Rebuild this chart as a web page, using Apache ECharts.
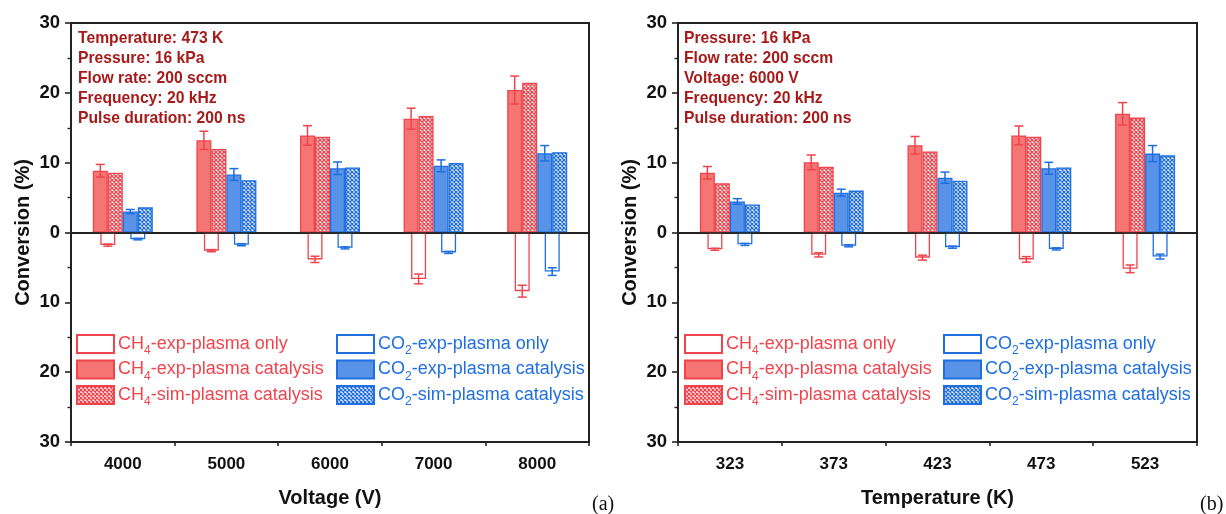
<!DOCTYPE html>
<html><head><meta charset="utf-8">
<script src="https://cdn.jsdelivr.net/npm/echarts@6/dist/echarts.min.js"></script>
<style>html,body{margin:0;padding:0;background:#fff}#c{width:1226px;height:514px}</style>
</head><body><div id="c"></div>
<script>
// ---- data ----
const voltCats = ['4000','5000','6000','7000','8000'];
const tempCats = ['323','373','423','473','523'];
const yTicks = [-30,-20,-10,0,10,20,30];

// (a) voltage
const ch4OnlyA    = [-1.8, -2.6, -3.85, -6.65, -8.4];
const ch4OnlyErrA = [0.15, 0.15, 0.45, 0.7, 0.85];
const ch4ExpA     = [8.85, 13.2, 13.9, 16.3, 20.4];
const ch4ExpErrA  = [0.9, 1.3, 1.4, 1.5, 2.0];
const ch4SimA     = [8.55, 11.95, 13.7, 16.7, 21.45];
const co2OnlyA    = [-0.95, -1.75, -2.2, -2.85, -5.6];
const co2OnlyErrA = [0.1, 0.15, 0.15, 0.15, 0.55];
const co2ExpA     = [3.0, 8.3, 9.2, 9.55, 11.35];
const co2ExpErrA  = [0.3, 0.85, 0.9, 0.85, 1.1];
const co2SimA     = [3.6, 7.5, 9.3, 9.95, 11.5];

// (b) temperature
const ch4OnlyB    = [-2.4, -3.2, -3.6, -3.85, -5.2];
const ch4OnlyErrB = [0.15, 0.3, 0.35, 0.4, 0.55];
const ch4ExpB     = [8.55, 10.05, 12.5, 13.9, 17.0];
const ch4ExpErrB  = [0.9, 1.05, 1.25, 1.35, 1.6];
const ch4SimB     = [7.05, 9.4, 11.6, 13.7, 16.45];
const co2OnlyB    = [-1.7, -1.9, -2.1, -2.35, -3.45];
const co2OnlyErrB = [0.15, 0.15, 0.15, 0.15, 0.35];
const co2ExpB     = [4.45, 5.7, 7.85, 9.2, 11.3];
const co2ExpErrB  = [0.4, 0.5, 0.8, 0.85, 1.15];
const co2SimB     = [4.0, 6.0, 7.4, 9.3, 11.05];

const names = ['CH4-exp-plasma only','CH4-exp-plasma catalysis','CH4-sim-plasma catalysis',
               'CO2-exp-plasma only','CO2-exp-plasma catalysis','CO2-sim-plasma catalysis'];
const notesA = ['Temperature: 473 K','Pressure: 16 kPa','Flow rate: 200 sccm','Frequency: 20 kHz','Pulse duration: 200 ns'];
const notesB = ['Pressure: 16 kPa','Flow rate: 200 sccm','Voltage: 6000 V','Frequency: 20 kHz','Pulse duration: 200 ns'];

// ---- styles ----
const FONT = 'Liberation Sans, Arial, sans-serif';
const RED = '#f0444c', REDF = '#f57575', BLUE = '#1f6fe0', BLUEF = '#5893e8';
const NOTE = '#a61a1a', AX = '#222';
const BW = 15;

function hatch(color){
  const c = document.createElement('canvas'); c.width = 4; c.height = 4;
  const g = c.getContext('2d');
  g.fillStyle = '#fff'; g.fillRect(0,0,4,4);
  g.strokeStyle = color; g.lineWidth = 1.3;
  g.beginPath(); g.moveTo(0,0); g.lineTo(4,4); g.moveTo(4,0); g.lineTo(0,4); g.stroke();
  return {image: c, repeat: 'repeat'};
}
const hatchR = hatch(RED), hatchB = hatch(BLUE);

function errSeries(xi, yi, vals, errs, off, color){
  return {
    type: 'custom', xAxisIndex: xi, yAxisIndex: yi, z: 5, silent: true,
    data: vals.map((v,i)=>[i, v, errs[i]]),
    renderItem: function(params, api){
      const i = api.value(0), v = api.value(1), e = api.value(2);
      const p1 = api.coord([i, v+e]), p2 = api.coord([i, v-e]);
      const x = p1[0] + off, h = 4.5;
      const st = {stroke: color, lineWidth: 1.5};
      return {type:'group', children:[
        {type:'line', shape:{x1:x, y1:p1[1], x2:x, y2:p2[1]}, style: st},
        {type:'line', shape:{x1:x-h, y1:p1[1], x2:x+h, y2:p1[1]}, style: st},
        {type:'line', shape:{x1:x-h, y1:p2[1], x2:x+h, y2:p2[1]}, style: st}
      ]};
    }
  };
}

function bar(name, xi, yi, data, color, border, gap){
  return {name, type:'bar', xAxisIndex: xi, yAxisIndex: yi, data, barWidth: BW, barGap: gap,
    itemStyle:{color, borderColor: border, borderWidth: 1.3}, emphasis:{disabled:true}};
}

function panel(p, D){
  const xa = 2*p, xb = 2*p+1;
  const s = [
    bar(names[1], xa, p, D.ch4Exp, REDF, RED, 0),
    bar(names[2], xa, p, D.ch4Sim, hatchR, RED, 0),
    bar(names[4], xa, p, D.co2Exp, BLUEF, BLUE, 0),
    bar(names[5], xa, p, D.co2Sim, hatchB, BLUE, 0),
    bar(names[0], xb, p, D.ch4Only, '#fff', RED, '100%'),
    bar(names[3], xb, p, D.co2Only, '#fff', BLUE, '100%'),
    errSeries(xa, p, D.ch4Exp, D.ch4ExpErr, -1.5*BW, RED),
    errSeries(xa, p, D.co2Exp, D.co2ExpErr, 0.5*BW, BLUE),
    errSeries(xb, p, D.ch4Only, D.ch4OnlyErr, -BW, RED),
    errSeries(xb, p, D.co2Only, D.co2OnlyErr, BW, BLUE)
  ];
  s[0].markLine = {silent:true, symbol:'none', label:{show:false},
    lineStyle:{color: AX, width: 1.6, type:'solid'}, data:[{yAxis: 0}]};
  return s;
}

const series = [].concat(
  panel(0, {ch4Only:ch4OnlyA, ch4OnlyErr:ch4OnlyErrA, ch4Exp:ch4ExpA, ch4ExpErr:ch4ExpErrA, ch4Sim:ch4SimA,
            co2Only:co2OnlyA, co2OnlyErr:co2OnlyErrA, co2Exp:co2ExpA, co2ExpErr:co2ExpErrA, co2Sim:co2SimA}),
  panel(1, {ch4Only:ch4OnlyB, ch4OnlyErr:ch4OnlyErrB, ch4Exp:ch4ExpB, ch4ExpErr:ch4ExpErrB, ch4Sim:ch4SimB,
            co2Only:co2OnlyB, co2OnlyErr:co2OnlyErrB, co2Exp:co2ExpB, co2ExpErr:co2ExpErrB, co2Sim:co2SimB})
);

function xAxes(gi, cats, title){
  return [
    {type:'category', gridIndex: gi, data: cats, position:'bottom',
     axisLine:{lineStyle:{color: AX, width: 2}},
     axisTick:{alignWithLabel:true, length: 8, lineStyle:{color: AX, width: 1.6}},
     axisLabel:{fontSize: 17, fontWeight:'bold', color:'#111', margin: 14, fontFamily: FONT},
     name: title, nameLocation:'middle', nameGap: 46,
     nameTextStyle:{fontSize: 20, fontWeight:'bold', color:'#111', fontFamily: FONT}},
    {type:'category', gridIndex: gi, data: cats, position:'bottom',
     axisLine:{show:false}, axisLabel:{show:false},
     axisTick:{show:true, length: 4, lineStyle:{color: AX, width: 1.6}}}
  ];
}
function yAxis(gi){
  return {type:'value', gridIndex: gi, min: yTicks[0], max: yTicks[yTicks.length-1], interval: 10,
    axisLine:{show:true, lineStyle:{color: AX, width: 2}},
    axisTick:{show:true, length: 6, lineStyle:{color: AX, width: 1.6}},
    minorTick:{show:true, splitNumber: 2, length: 3.5, lineStyle:{color: AX, width: 1.4}},
    splitLine:{show:false},
    axisLabel:{fontSize: 18.5, fontWeight:'bold', color:'#111', margin: 11, fontFamily: FONT,
      formatter: v => String(Math.abs(v))},
    name:'Conversion (%)', nameLocation:'middle', nameGap: 38,
    nameTextStyle:{fontSize: 20, fontWeight:'bold', color:'#111', fontFamily: FONT}};
}

function legend(left, data, color){
  return {left, top: 329, orient:'vertical', itemWidth: 37, itemHeight: 18, itemGap: 2.5, icon:'rect',
    data, selectedMode: false, padding: [5,5,5,5],
    formatter: n => '{t|' + n.slice(0,2) + '}{s|' + n[2] + '}{t|' + n.slice(3) + '}',
    textStyle:{color, fontFamily: FONT, padding:[0,0,0,-1],
      rich:{t:{fontSize: 18, color, fontFamily: FONT, lineHeight: 18},
            s:{fontSize: 12, color, fontFamily: FONT, verticalAlign:'bottom', lineHeight: 12, padding:[0,0,-4,0]}}}};
}

const chart = echarts.init(document.getElementById('c'), null, {renderer:'canvas'});
chart.setOption({
  animation: false,
  backgroundColor: '#fff',
  textStyle:{fontFamily: FONT},
  title: [
    {text: notesA.join('\n'), left: 73, top: 24, textStyle:{fontSize: 15.7, fontWeight:'bold', color: NOTE, lineHeight: 20, fontFamily: FONT}},
    {text: notesB.join('\n'), left: 679, top: 24, textStyle:{fontSize: 15.7, fontWeight:'bold', color: NOTE, lineHeight: 20, fontFamily: FONT}},
    {text: '(a)', left: 587, top: 490, textStyle:{fontSize: 20, fontWeight:'normal', color:'#111', fontFamily:'Liberation Serif, Times New Roman, serif'}},
    {text: '(b)', left: 1195, top: 490, textStyle:{fontSize: 20, fontWeight:'normal', color:'#111', fontFamily:'Liberation Serif, Times New Roman, serif'}}
  ],
  legend: [
    legend(71, names.slice(0,3), RED),
    legend(331, names.slice(3), BLUE),
    legend(679, names.slice(0,3), RED),
    legend(938, names.slice(3), BLUE)
  ],
  grid: [
    {left: 71, width: 518, top: 23, bottom: 72, show: true, borderColor: AX, borderWidth: 2, backgroundColor:'transparent'},
    {left: 678, width: 519, top: 23, bottom: 72, show: true, borderColor: AX, borderWidth: 2, backgroundColor:'transparent'}
  ],
  xAxis: [].concat(xAxes(0, voltCats, 'Voltage (V)'), xAxes(1, tempCats, 'Temperature (K)')),
  yAxis: [yAxis(0), yAxis(1)],
  series
});
</script></body></html>
